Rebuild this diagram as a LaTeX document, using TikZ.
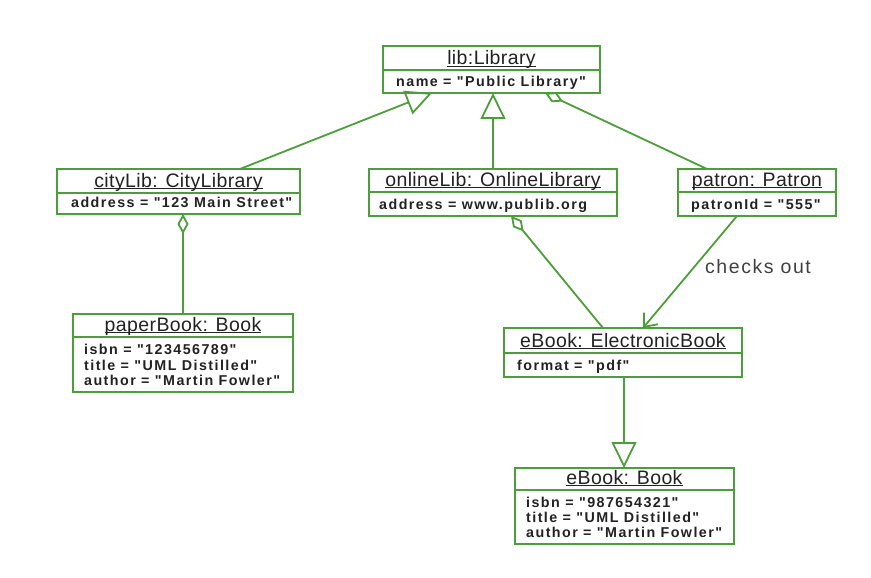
\documentclass[tikz,border=0pt]{standalone}
\usepackage{fontspec}
\setmainfont{Liberation Sans}
\newfontfamily\hdfont[LetterSpace=2]{Liberation Sans}
\newfontfamily\atfont[LetterSpace=10]{Liberation Sans}
\newfontfamily\lbfont[LetterSpace=8]{Liberation Sans}
\usetikzlibrary{arrows.meta}
\definecolor{umlgreen}{RGB}{76,158,58}
\definecolor{txt}{RGB}{34,34,34}
\newcommand\hdul[1]{\setbox0\hbox{#1}\rlap{\rule[-2.3pt]{\wd0}{1.1pt}}\box0}
\begin{document}
\begin{tikzpicture}[x=1pt,y=-1pt,
  objbox/.style={draw=umlgreen, line width=2.6pt, rectangle, inner sep=0pt, outer sep=0pt, anchor=north west},
  divider/.style={draw=umlgreen, line width=2pt},
  hdtext/.style={font=\hdfont\fontsize{19.5}{21}\selectfont, text=txt, inner sep=0pt, anchor=base},
  attext/.style={font=\atfont\bfseries\fontsize{14.3}{15.7}\selectfont, text=txt, anchor=base west, inner sep=0pt},
  lbtext/.style={font=\lbfont\fontsize{19.5}{21}\selectfont, text=black!75, inner sep=0pt},
  link/.style={draw=umlgreen, line width=1.8pt},
  gen/.style={link, -{Triangle[open, length=26pt, width=25pt]}},
  agg/.style={link, {Diamond[open, length=20pt, width=11pt]}-},
  nav/.style={link, -{Straight Barb[length=11pt, width=18pt]}}
]
\fill[white] (0,0) rectangle (871,578);
\useasboundingbox (0,0) rectangle (871,578);

% lib:Library
\node[objbox, minimum width=217pt, minimum height=47pt] (lib) at (383,46) {};
\draw[divider] ([yshift=-24pt]lib.north west) -- ([yshift=-24pt]lib.north east);
\node[hdtext] (libh) at (491.5,64.5) {\hdul{lib:Library}};
\node[attext] (liba) at (396,86.5) {name = "Public Library"};

% cityLib
\node[objbox, minimum width=243pt, minimum height=45pt] (city) at (57,169) {};
\draw[divider] ([yshift=-24pt]city.north west) -- ([yshift=-24pt]city.north east);
\node[hdtext] (cityh) at (178.5,187) {\hdul{cityLib: CityLibrary}};
\node[attext] (citya) at (71,207.5) {address = "123 Main Street"};

% onlineLib
\node[objbox, minimum width=248pt, minimum height=47pt] (online) at (369,169) {};
\draw[divider] ([yshift=-23pt]online.north west) -- ([yshift=-23pt]online.north east);
\node[hdtext] (onlineh) at (493,186) {\hdul{onlineLib: OnlineLibrary}};
\node[attext] (onlinea) at (379,209.5) {address = www.publib.org};

% patron
\node[objbox, minimum width=158pt, minimum height=47pt] (patron) at (678,169) {};
\draw[divider] ([yshift=-23pt]patron.north west) -- ([yshift=-23pt]patron.north east);
\node[hdtext] (patronh) at (757,186) {\hdul{patron: Patron}};
\node[attext] (patrona) at (691,209.5) {patronId = "555"};

% paperBook
\node[objbox, minimum width=220pt, minimum height=78pt] (paper) at (73,314) {};
\draw[divider] ([yshift=-23pt]paper.north west) -- ([yshift=-23pt]paper.north east);
\node[hdtext] (paperh) at (183,331) {\hdul{paperBook: Book}};
\node[attext] (papera1) at (84,354.3) {isbn = "123456789"};
\node[attext] (papera2) at (84,370) {title = "UML Distilled"};
\node[attext] (papera3) at (84,385.7) {author = "Martin Fowler"};

% eBook: ElectronicBook
\node[objbox, minimum width=238pt, minimum height=49pt] (ebook) at (504,328) {};
\draw[divider] ([yshift=-25pt]ebook.north west) -- ([yshift=-25pt]ebook.north east);
\node[hdtext] (ebookh) at (623,347) {\hdul{eBook: ElectronicBook}};
\node[attext] (ebooka) at (517,370.5) {format = "pdf"};

% eBook: Book
\node[objbox, minimum width=219pt, minimum height=76pt] (book) at (515,468) {};
\draw[divider] ([yshift=-22pt]book.north west) -- ([yshift=-22pt]book.north east);
\node[hdtext] (bookh) at (624.5,484) {\hdul{eBook: Book}};
\node[attext] (booka1) at (526,507.3) {isbn = "987654321"};
\node[attext] (booka2) at (526,522.7) {title = "UML Distilled"};
\node[attext] (booka3) at (526,537.5) {author = "Martin Fowler"};

% connectors
\draw[gen] ([xshift=183pt]city.north west) -- ([xshift=49pt]lib.south west);
\draw[gen] (online.north) -- (online.north |- lib.south);
\draw[agg] ([xshift=162pt]lib.south west) -- ([xshift=29pt]patron.north west);
\draw[agg] ([xshift=126pt]city.south west) -- ([xshift=126pt]city.south west |- paper.north);
\draw[agg] ([xshift=142pt]online.south west) -- ([xshift=99pt]ebook.north west);
\draw[nav] ([xshift=59pt]patron.south west) -- ([xshift=139pt]ebook.north west);
\draw[gen] ([xshift=120pt]ebook.south west) -- ([xshift=120pt]ebook.south west |- book.north);
\node[lbtext] (lbl) at (758,267) {checks out};
\end{tikzpicture}
\end{document}
